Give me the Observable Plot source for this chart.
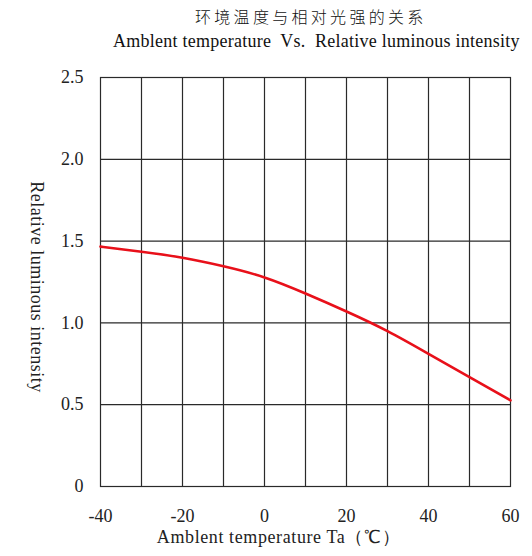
<!DOCTYPE html>
<html><head><meta charset="utf-8">
<script src="https://cdn.jsdelivr.net/npm/d3@7"></script>
<script src="https://cdn.jsdelivr.net/npm/@observablehq/plot@0.6"></script>
<style>
html,body{margin:0;padding:0;background:#fff;width:532px;height:556px;overflow:hidden;}
#wrap{position:relative;width:532px;height:556px;}
#t1{position:absolute;top:6px;left:195px;font-family:"Noto Sans CJK SC";font-size:16px;font-weight:300;letter-spacing:3.3px;white-space:nowrap;line-height:20px;color:#111}
#t2{position:absolute;top:30px;left:113px;font-family:"Liberation Serif";font-size:18px;letter-spacing:0.25px;white-space:pre;line-height:22px;color:#111}
#chart{position:absolute;top:60px;left:0}
#chart svg text{font-family:"Liberation Serif" !important;}
</style></head><body>
<div id="wrap">
<div id="t1"></div>
<div id="t2"></div>
<div id="chart"></div>
</div>
<script>
const titleCN = "环境温度与相对光强的关系";
const titleEN = "Amblent temperature  Vs.  Relative luminous intensity";
const xLabel = "Amblent temperature Ta（℃）";
const yLabel = "Relative luminous intensity";
const temps = [-40, -30, -20, -10, 0, 10, 20, 30, 40, 50, 60];
const intensity = [1.466, 1.435, 1.398, 1.346, 1.278, 1.18, 1.07, 0.95, 0.811, 0.668, 0.527];
const xTicks = [-40, -20, 0, 20, 40, 60];
const yTicks = [0, 0.5, 1, 1.5, 2, 2.5];
const xGrid = [-30, -20, -10, 0, 10, 20, 30, 40, 50];
const yGrid = [0.5, 1, 1.5, 2];

document.getElementById("t1").textContent = titleCN;
document.getElementById("t2").textContent = titleEN;

const data = temps.map((t, i) => ({t, v: intensity[i]}));
const gridColor = "#2a2a2a";

const chart = Plot.plot({
  width: 532,
  height: 496,
  marginTop: 17,
  marginBottom: 70,
  marginLeft: 100,
  marginRight: 22,
  style: {fontFamily: "Liberation Serif", fontSize: "18px", color: "#222", background: "#fff"},
  x: {domain: [-40, 60], ticks: xTicks, tickSize: 0, tickPadding: 23, label: null,
      tickFormat: d => String(d)},
  y: {domain: [0, 2.5], ticks: yTicks, tickSize: 0, tickPadding: 17, label: null,
      tickFormat: d => d === 0 ? "0" : d.toFixed(1)},
  marks: [
    Plot.ruleX(xGrid, {stroke: gridColor, strokeWidth: 1.2}),
    Plot.ruleY(yGrid, {stroke: gridColor, strokeWidth: 1.2}),
    Plot.frame({stroke: gridColor, strokeWidth: 1.2}),
    Plot.line(data, {x: "t", y: "v", stroke: "#e8101a", strokeWidth: 2.6, curve: "natural"}),
    Plot.text([yLabel], {frameAnchor: "left", textAnchor: "middle", rotate: 90, dx: -64, dy: 5,
      fontSize: 18, fill: "#222"}),
    Plot.text([xLabel], {frameAnchor: "bottom", textAnchor: "middle", dx: -27, dy: 56, fontSize: 18, fill: "#222"})
  ]
});
chart.querySelectorAll("text").forEach(t => {
  if (t.textContent === yLabel) t.style.letterSpacing = "0.5px";
  if (t.textContent === xLabel) t.style.letterSpacing = "0.6px";
});
document.getElementById("chart").appendChild(chart);
</script>
</body></html>
